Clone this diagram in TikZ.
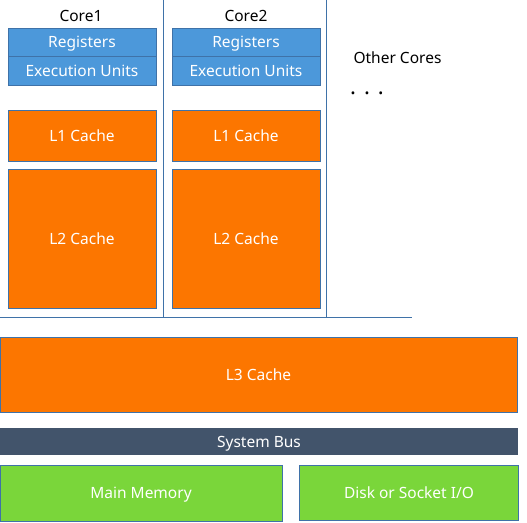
\documentclass[tikz,border=0pt]{standalone}
\usepackage{fontspec}
\setmainfont{Noto Sans}
\definecolor{regblue}{HTML}{4C98DA}
\definecolor{cacheor}{HTML}{FC7600}
\definecolor{memgreen}{HTML}{7AD63A}
\definecolor{busgray}{HTML}{42546B}
\definecolor{edge}{HTML}{3F72A8}
\begin{document}
\begin{tikzpicture}[x=1pt,y=-1pt,
  box/.style={draw=edge,line width=1pt,text=white,font=\fontsize{15.5}{18}\selectfont,text height=11pt,text depth=0pt},
  lbl/.style={font=\fontsize{15.5}{18}\selectfont,text=black,text height=11pt,text depth=0pt},
  sep/.style={draw=edge,line width=0.9pt}]
\useasboundingbox (0,0) rectangle (527,522);
% Core 1
\node[lbl] (c1) at (81,16) {Core1};
\node[box,fill=regblue,minimum width=148pt,minimum height=28pt] (r1) at (82,42) {Registers};
\node[box,fill=regblue,minimum width=148pt,minimum height=29pt] (e1) at (82,70.5) {Execution Units};
\node[box,fill=cacheor,minimum width=148pt,minimum height=51pt] (l11) at (82,135.5) {L1 Cache};
\node[box,fill=cacheor,minimum width=148pt,minimum height=139pt] (l21) at (82,238.5) {L2 Cache};
% Core 2
\node[lbl] (c2) at (246,16) {Core2};
\node[box,fill=regblue,minimum width=148pt,minimum height=28pt] (r2) at (246,42) {Registers};
\node[box,fill=regblue,minimum width=148pt,minimum height=29pt] (e2) at (246,70.5) {Execution Units};
\node[box,fill=cacheor,minimum width=148pt,minimum height=51pt] (l12) at (246,135.5) {L1 Cache};
\node[box,fill=cacheor,minimum width=148pt,minimum height=139pt] (l22) at (246,238.5) {L2 Cache};
% other cores
\node[lbl,anchor=west] (oc) at (350,58) {Other Cores};
\node[anchor=west,inner sep=0pt] (dots) at (350,93) {\fontsize{22}{22}\selectfont\bfseries .\hspace{8pt}.\hspace{8pt}.};
% separators
\coordinate (v1t) at (163,0); \coordinate (v1b) at (163,317);
\coordinate (v2t) at (326.5,0); \coordinate (v2b) at (326.5,317);
\coordinate (hl) at (0,317); \coordinate (hr) at (412,317);
\draw[sep] (v1t) -- (v1b);
\draw[sep] (v2t) -- (v2b);
\draw[sep] (hl) -- (hr);
% L3 and below
\node[box,fill=cacheor,minimum width=517pt,minimum height=75pt] (l3) at (258.5,374.5) {L3 Cache};
\node[box,fill=busgray,draw=none,minimum width=518pt,minimum height=27pt] (bus) at (259,441.5) {System Bus};
\node[box,fill=memgreen,minimum width=282pt,minimum height=56pt] (mm) at (141,493) {Main Memory};
\node[box,fill=memgreen,minimum width=219pt,minimum height=55pt] (io) at (409,492.5) {Disk or Socket I/O};
\end{tikzpicture}
\end{document}
